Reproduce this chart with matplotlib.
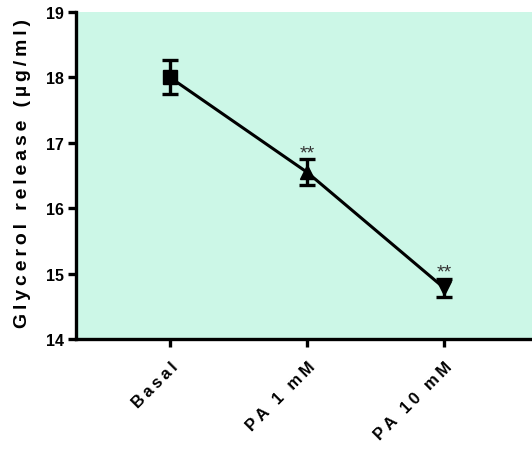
import matplotlib
matplotlib.use("Agg")
import matplotlib.pyplot as plt

plt.rcParams['font.family'] = ['Liberation Sans', 'DejaVu Sans']

# Glycerol release per treatment (mean ± SEM)
groups = ["Basal", "PA 1 mM", "PA 10 mM"]
means = [18.0, 16.55, 14.78]
sems = [0.26, 0.2, 0.14]
markers = ["s", "^", "v"]
signif = ["", "**", "**"]
yticks = [14, 15, 16, 17, 18, 19]

THIN = "\u2009"


def spaced(s):
    return THIN.join(s)


fig = plt.figure(figsize=(5.32, 4.52), dpi=100)
ax = fig.add_axes([0.143, 0.248, 0.857, 0.723])
ax.set_facecolor("#ccf7e7")

x = list(range(len(groups)))
ax.plot(x, means, color="black", lw=2.2, zorder=2)
for xi, m, s, mk in zip(x, means, sems, markers):
    ax.errorbar(xi, m, yerr=s, fmt="none", ecolor="black", elinewidth=2.4,
                capsize=6, capthick=2.4, zorder=3)
    ax.plot(xi, m, marker=mk, ms=10, color="black", zorder=4)

for xi, m, s, lab in zip(x, means, sems, signif):
    if lab:
        ax.text(xi, m + s + 0.03, lab, ha="center", va="baseline",
                fontsize=14, color="#333333")

ax.set_xlim(-0.686, 2.642)
ax.set_ylim(14, 19)
ax.set_yticks(yticks)
ax.set_yticklabels([str(t) for t in yticks], fontsize=11.5, fontweight="bold")
ax.set_xticks(x)
ax.set_xticklabels([spaced(g) for g in groups], rotation=45, ha="right",
                   rotation_mode="anchor", fontsize=12, fontweight="bold")

for side in ("top", "right"):
    ax.spines[side].set_visible(False)
for side in ("left", "bottom"):
    ax.spines[side].set_linewidth(2.4)
ax.tick_params(axis="y", direction="out", length=6, width=2.4, pad=3)
ax.tick_params(axis="x", direction="out", length=6, width=2.4, pad=8)

ax.set_ylabel(spaced("Glycerol release (µg/ml)"), fontsize=14,
              fontweight="bold")
ax.yaxis.set_label_coords(-0.098, 0.51)

fig.savefig("out.png", dpi=100)
